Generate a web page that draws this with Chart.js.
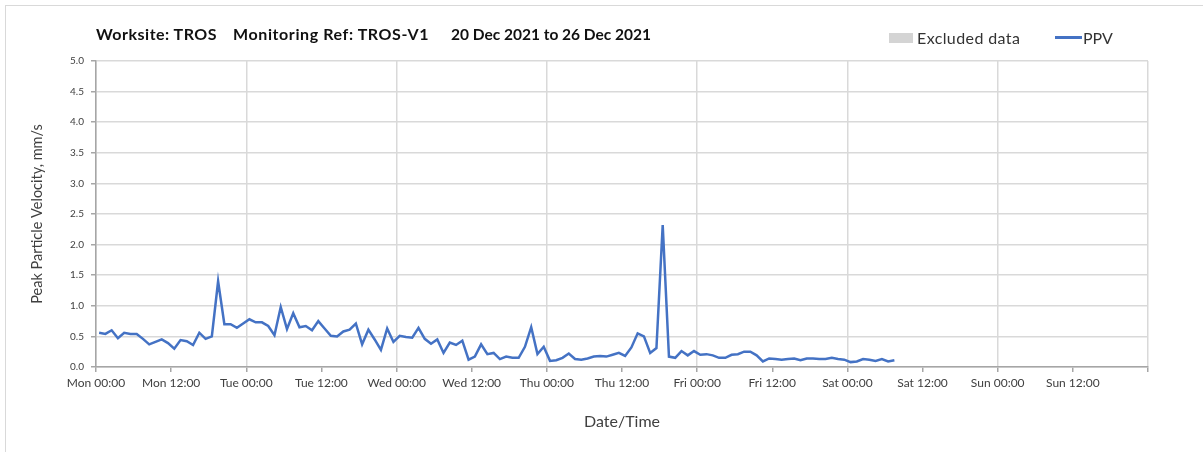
<!DOCTYPE html>
<html>
<head>
<meta charset="utf-8">
<script src="https://cdn.jsdelivr.net/npm/chart.js@4.4.0/dist/chart.umd.min.js"></script>
<style>
  html, body { margin: 0; padding: 0; background: #fff; }
  #wrap { position: relative; width: 1203px; height: 452px; overflow: hidden; font-family: Lato, "Open Sans", sans-serif; }
  #frame { position: absolute; left: 5px; top: 5px; width: 1200px; height: 460px; border: 1px solid #d9d9d9; box-sizing: border-box; }
  #chart { position: absolute; left: 0; top: 0; }
  .ttl { position: absolute; top: 25px; line-height: 18px; font-size: 16px; font-weight: bold; color: #111; white-space: nowrap; }
  .lgt { position: absolute; top: 29px; line-height: 18px; font-size: 16px; color: #333; white-space: nowrap; }
  .swatch { position: absolute; }
</style>
</head>
<body>
<div id="wrap">
  <div id="frame"></div>
  <canvas id="chart" width="1203" height="452"></canvas>
  <span class="ttl" style="left:96px;letter-spacing:0.5px">Worksite: TROS</span>
  <span class="ttl" style="left:233px;letter-spacing:0.6px">Monitoring Ref: TROS-V1</span>
  <span class="ttl" style="left:451px;font-size:15.5px">20 Dec 2021 to 26 Dec 2021</span>
  <div class="swatch" style="left:889px;top:33px;width:24px;height:10px;background:#d4d4d4"></div>
  <span class="lgt" style="left:917px;letter-spacing:0.4px">Excluded data</span>
  <div class="swatch" style="left:1055px;top:36px;width:27px;height:3px;background:#4472c4"></div>
  <span class="lgt" style="left:1083px">PPV</span>
</div>
<script>
// hourly readings, first one half an hour after Mon 00:00
const startHour = 0.5;
const stepHours = 1;

// PPV, mm/s
const ppv = [
  0.56, 0.54, 0.60, 0.47, 0.56, 0.54, 0.54, 0.46, 0.37, 0.41,
  0.45, 0.39, 0.30, 0.44, 0.42, 0.36, 0.56, 0.46, 0.50, 1.40,
  0.70, 0.70, 0.64, 0.71, 0.78, 0.73, 0.73, 0.67, 0.52, 0.98,
  0.62, 0.88, 0.65, 0.67, 0.60, 0.75, 0.63, 0.51, 0.50, 0.58,
  0.61, 0.71, 0.37, 0.61, 0.45, 0.28, 0.63, 0.41, 0.51, 0.49,
  0.48, 0.64, 0.46, 0.38, 0.45, 0.23, 0.40, 0.36, 0.43, 0.12,
  0.17, 0.37, 0.21, 0.23, 0.13, 0.17, 0.15, 0.15, 0.33, 0.65,
  0.21, 0.33, 0.10, 0.11, 0.15, 0.22, 0.13, 0.12, 0.14, 0.17,
  0.18, 0.17, 0.20, 0.23, 0.18, 0.32, 0.55, 0.50, 0.23, 0.31,
  2.32, 0.17, 0.15, 0.26, 0.19, 0.26, 0.20, 0.21, 0.19, 0.15,
  0.15, 0.20, 0.21, 0.25, 0.25, 0.19, 0.09, 0.14, 0.13, 0.12,
  0.13, 0.14, 0.11, 0.14, 0.14, 0.13, 0.13, 0.15, 0.13, 0.12,
  0.08, 0.09, 0.13, 0.12, 0.10, 0.13, 0.09, 0.11
];

// x axis labels
const dayNames = ['Mon', 'Tue', 'Wed', 'Thu', 'Fri', 'Sat', 'Sun'];
const halfDayLabels = ['00:00', '12:00'];

const points = ppv.map((v, i) => ({x: startHour + i * stepHours, y: v}));

const textGrey = '#404040';
const axisGrey = '#a6a6a6';
const gridGrey = '#d9d9d9';

new Chart(document.getElementById('chart'), {
  type: 'line',
  data: {
    datasets: [{
      label: 'PPV',
      data: points,
      borderColor: '#4472c4',
      borderWidth: 2.5,
      pointRadius: 0,
      tension: 0,
      fill: false
    }]
  },
  options: {
    responsive: false,
    animation: false,
    devicePixelRatio: 1,
    layout: { padding: { left: 12, right: 55, top: 61, bottom: 16 } },
    plugins: {
      legend: { display: false },
      tooltip: { enabled: false }
    },
    scales: {
      x: {
        type: 'linear',
        min: 0,
        max: 168,
        afterFit: s => { s.height = 452 - 16 - 367; },
        ticks: {
          stepSize: 12,
          autoSkip: false,
          maxRotation: 0,
          color: textGrey,
          font: { family: 'Lato', size: 12 },
          padding: 4,
          callback: v => {
            if (v >= 168) return '';
            return dayNames[Math.floor(v / 24)] + ' ' + halfDayLabels[(v % 24) / 12];
          }
        },
        grid: {
          color: c => (c.tick && c.tick.value % 24 === 0) ? gridGrey : 'rgba(0,0,0,0)',
          tickColor: axisGrey,
          tickLength: 5,
          lineWidth: 1.5
        },
        border: { color: axisGrey, width: 1.5 },
        title: {
          display: true,
          text: 'Date/Time',
          color: textGrey,
          font: { family: 'Lato', size: 16 },
          padding: { top: 0, bottom: 5 }
        }
      },
      y: {
        min: 0,
        max: 5,
        afterFit: s => { s.width = 96 - 12; },
        ticks: {
          stepSize: 0.5,
          color: textGrey,
          font: { family: 'Lato', size: 10 },
          padding: 7,
          callback: v => v.toFixed(1)
        },
        grid: {
          color: gridGrey,
          tickColor: axisGrey,
          tickLength: 5,
          lineWidth: 1.5
        },
        border: { color: axisGrey, width: 1.5 },
        title: {
          display: true,
          text: 'Peak Particle Velocity, mm/s',
          color: textGrey,
          font: { family: 'Lato', size: 14.5 },
          padding: { top: 17, bottom: 0 }
        }
      }
    }
  }
});
</script>
</body>
</html>
